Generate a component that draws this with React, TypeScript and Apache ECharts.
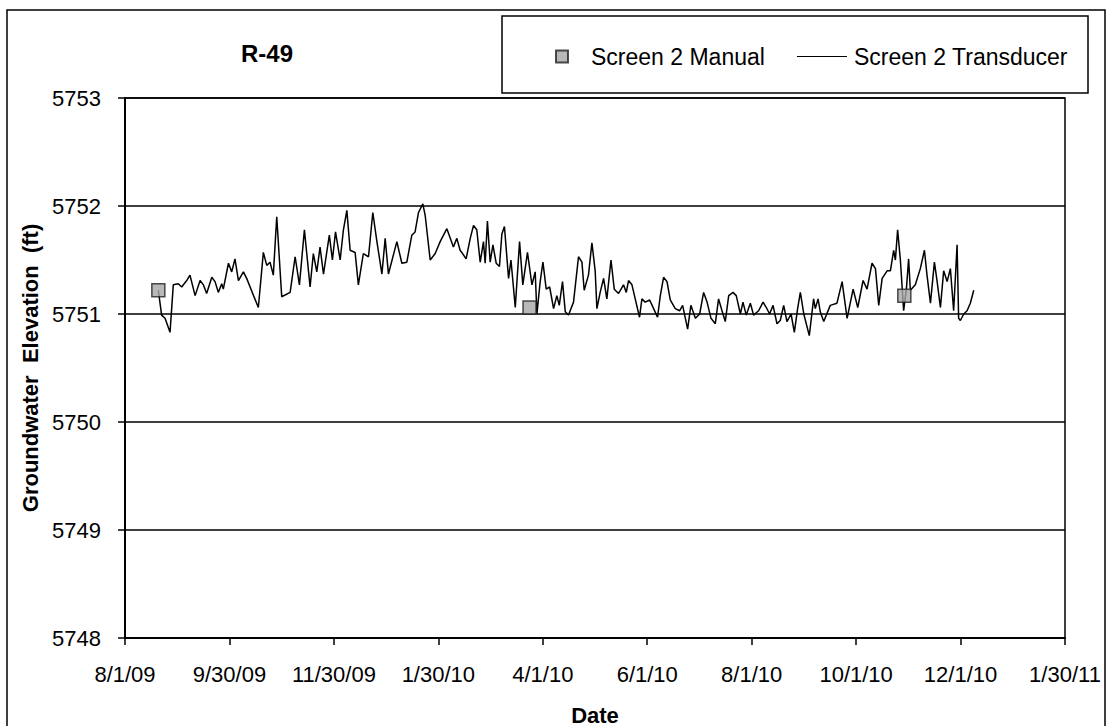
import React, { useEffect, useRef } from "react";
import * as echarts from "echarts";

// x values are days since 8/1/09
const xTickLabels = ["8/1/09", "9/30/09", "11/30/09", "1/30/10", "4/1/10", "6/1/10", "8/1/10", "10/1/10", "12/1/10", "1/30/11"];
const X_MIN_DAY = 0;
const X_MAX_DAY = 547;
const yTickMin = 5748;
const yTickMax = 5753;

const manualPoints: [number, number][] = [
  [19.4, 5751.22],
  [235.4, 5751.06],
  [453.5, 5751.17],
];

const transducer2009: [number, number][] = [
  [19.4, 5751.22], [21.3, 5750.99], [23.3, 5750.96], [26.2, 5750.83], [28.1, 5751.27],
  [31.0, 5751.28], [33.0, 5751.25], [35.9, 5751.31], [37.8, 5751.36], [40.8, 5751.17],
  [43.7, 5751.31], [45.6, 5751.27], [47.5, 5751.19], [50.5, 5751.34], [52.4, 5751.30],
  [54.3, 5751.20], [56.3, 5751.28], [57.2, 5751.23], [60.2, 5751.47], [62.1, 5751.39],
  [64.0, 5751.51], [66.0, 5751.31], [68.9, 5751.39], [70.8, 5751.33], [77.6, 5751.06],
  [80.5, 5751.57], [82.5, 5751.45], [84.4, 5751.48], [86.3, 5751.36], [88.3, 5751.90],
  [91.2, 5751.16], [96.1, 5751.20], [99.0, 5751.53], [101.5, 5751.27], [104.4, 5751.78],
  [107.7, 5751.25], [109.6, 5751.56], [111.6, 5751.39], [113.5, 5751.62], [115.5, 5751.37],
  [118.9, 5751.73], [120.7, 5751.50], [122.5, 5751.76], [125.2, 5751.50], [127.1, 5751.78],
  [129.1, 5751.96], [131.0, 5751.59], [133.9, 5751.57], [135.8, 5751.27], [138.7, 5751.56],
  [141.7, 5751.53], [144.2, 5751.94], [146.5, 5751.68], [149.5, 5751.37], [151.4, 5751.70],
  [153.3, 5751.37], [158.2, 5751.67], [161.1, 5751.47], [164.0, 5751.48], [166.9, 5751.73],
  [168.8, 5751.76], [170.8, 5751.94], [173.3, 5752.02], [174.7, 5751.91], [177.6, 5751.50],
  [180.5, 5751.56], [183.4, 5751.67], [187.3, 5751.79], [191.1, 5751.62], [193.1, 5751.70],
  [195.0, 5751.59],
];

const transducer2010a: [number, number][] = [
  [196.0, 5751.57], [198.5, 5751.51], [200.9, 5751.70], [202.8, 5751.82], [204.7, 5751.78],
  [206.7, 5751.48], [208.6, 5751.67], [209.6, 5751.47], [210.9, 5751.86], [212.5, 5751.48],
  [214.1, 5751.64], [216.0, 5751.47], [217.9, 5751.44], [219.3, 5751.74], [220.8, 5751.81],
  [223.2, 5751.33], [224.6, 5751.50], [227.1, 5751.06], [229.6, 5751.67], [231.5, 5751.27],
  [234.2, 5751.57], [236.8, 5751.27], [238.7, 5751.39], [239.7, 5751.00], [241.6, 5751.30],
  [243.2, 5751.48], [245.1, 5751.23], [247.1, 5751.25], [249.4, 5751.05], [251.3, 5751.17],
  [252.7, 5751.08], [254.6, 5751.30], [256.2, 5751.02], [258.1, 5750.99], [261.0, 5751.11],
  [263.9, 5751.53], [265.9, 5751.48], [267.2, 5751.22], [269.7, 5751.36], [271.7, 5751.66],
  [273.6, 5751.40], [274.6, 5751.05], [276.5, 5751.20], [278.5, 5751.33], [280.4, 5751.14],
  [282.8, 5751.50], [284.7, 5751.23], [287.2, 5751.19], [290.1, 5751.27], [291.7, 5751.20],
  [293.0, 5751.31], [295.0, 5751.27], [296.9, 5751.14], [299.4, 5750.97], [300.8, 5751.14],
  [302.7, 5751.11], [305.3, 5751.13], [307.6, 5751.05], [309.9, 5750.97], [311.5, 5751.17],
  [313.4, 5751.34], [315.4, 5751.30], [317.3, 5751.13], [320.2, 5751.05], [322.7, 5751.03],
  [324.5, 5751.08], [327.4, 5750.86], [329.3, 5751.08], [331.9, 5750.96], [334.4, 5751.00],
  [336.7, 5751.20], [338.7, 5751.11], [341.0, 5750.96], [343.5, 5750.91], [345.4, 5751.14],
  [347.4, 5751.03], [349.3, 5750.93], [351.3, 5751.17], [353.8, 5751.20], [355.7, 5751.17],
  [358.1, 5751.00], [359.6, 5751.11], [361.5, 5750.99], [363.9, 5751.10], [365.8, 5750.99],
  [368.7, 5751.03], [371.3, 5751.11], [373.2, 5751.06], [375.1, 5751.00], [377.1, 5751.08],
  [379.4, 5750.91], [381.3, 5750.94], [383.3, 5751.08], [385.2, 5750.93], [387.6, 5751.00],
  [389.5, 5750.83], [391.4, 5751.05], [393.0, 5751.20],
];

const transducer2010b: [number, number][] = [
  [395.0, 5751.00], [398.2, 5750.80], [400.7, 5751.14], [401.7, 5751.05], [403.3, 5751.14],
  [404.6, 5751.02], [406.6, 5750.93], [410.4, 5751.08], [414.3, 5751.10], [417.3, 5751.30],
  [420.2, 5750.96], [423.7, 5751.23], [426.4, 5751.06], [429.5, 5751.31], [431.8, 5751.23],
  [434.7, 5751.47], [436.7, 5751.42], [438.6, 5751.08], [440.6, 5751.33], [443.5, 5751.40],
  [445.4, 5751.40], [447.3, 5751.59], [448.3, 5751.50], [449.6, 5751.78], [451.2, 5751.50],
  [453.1, 5751.03], [454.7, 5751.23], [456.0, 5751.51], [457.0, 5751.22], [459.9, 5751.27],
  [462.8, 5751.42], [465.2, 5751.59], [466.7, 5751.36], [468.7, 5751.10], [471.0, 5751.48],
  [472.6, 5751.30], [474.5, 5751.06], [476.4, 5751.40], [478.4, 5751.30], [480.3, 5751.42],
  [482.2, 5751.03], [484.2, 5751.64], [485.1, 5750.96], [486.1, 5750.94], [488.1, 5751.00],
  [490.0, 5751.03], [491.9, 5751.10], [493.9, 5751.22],
];

const FONT = "'Liberation Sans', Arial, Helvetica, sans-serif";

export default function App() {
  const ref = useRef<HTMLDivElement>(null);

  useEffect(() => {
    if (!ref.current) return;
    const chart = echarts.init(ref.current, undefined, { renderer: "svg" });
    const interval = (X_MAX_DAY - X_MIN_DAY) / (xTickLabels.length - 1);
    const transducer = [...transducer2009, ...transducer2010a, ...transducer2010b];

    chart.setOption({
      animation: false,
      backgroundColor: "#ffffff",
      title: {
        text: "R-49",
        left: 236,
        top: 36,
        textStyle: { fontFamily: FONT, fontSize: 24, fontWeight: "bold", color: "#000" },
      },
      legend: [
        {
          data: [{ name: "Screen 2 Manual", icon: "rect" }],
          left: 550,
          top: 40,
          itemWidth: 12,
          itemHeight: 12,
          textStyle: { fontFamily: FONT, fontSize: 23, color: "#000", padding: [0, 0, 0, 18] },
        },
        {
          data: [{ name: "Screen 2 Transducer", icon: "path://M0,0L50,0L50,1L0,1Z" }],
          left: 792,
          top: 40,
          itemWidth: 50,
          itemHeight: 1.5,
          itemStyle: { color: "#000", borderWidth: 0 },
          lineStyle: { width: 0 },
          textStyle: { fontFamily: FONT, fontSize: 23, color: "#000", padding: [0, 0, 0, 2] },
        },
      ],
      grid: {
        left: 125,
        top: 98,
        right: 46,
        bottom: 88,
        containLabel: false,
        outerBoundsMode: "none",
        show: true,
        borderColor: "#000",
        borderWidth: 1.5,
      },
      xAxis: {
        type: "value",
        min: X_MIN_DAY,
        max: X_MAX_DAY,
        interval,
        name: "Date",
        nameLocation: "middle",
        nameGap: 66,
        nameTextStyle: { fontFamily: FONT, fontSize: 22, fontWeight: "bold", color: "#000" },
        axisLine: { show: true, lineStyle: { color: "#000", width: 2 } },
        axisTick: { show: true, inside: false, length: 7, lineStyle: { color: "#000", width: 1.5 } },
        axisLabel: {
          margin: 25,
          fontFamily: FONT,
          fontSize: 22,
          color: "#000",
          formatter: (v: number) => xTickLabels[Math.round((v - X_MIN_DAY) / interval)] ?? "",
        },
        splitLine: { show: false },
      },
      yAxis: {
        type: "value",
        min: yTickMin,
        max: yTickMax,
        interval: 1,
        name: "Groundwater  Elevation  (ft)",
        nameLocation: "middle",
        nameGap: 78,
        nameRotate: 90,
        nameTextStyle: { fontFamily: FONT, fontSize: 22, fontWeight: "bold", color: "#000" },
        axisLine: { show: true, lineStyle: { color: "#000", width: 2 } },
        axisTick: { show: true, inside: false, length: 7, lineStyle: { color: "#000", width: 1.5 } },
        axisLabel: {
          margin: 24,
          fontFamily: FONT,
          fontSize: 22,
          color: "#000",
          formatter: (v: number) => String(v),
        },
        splitLine: { show: true, lineStyle: { color: "#000", width: 1.5 } },
      },
      graphic: [
        {
          type: "rect",
          shape: { x: 7, y: 10, width: 1098, height: 760 },
          style: { fill: "none", stroke: "#000", lineWidth: 1.5 },
          silent: true,
        },
        {
          type: "rect",
          shape: { x: 502, y: 16, width: 586, height: 77 },
          style: { fill: "#fff", stroke: "#000", lineWidth: 1.5 },
          silent: true,
          z: -1,
        },
      ],
      series: [
        {
          name: "Screen 2 Transducer",
          type: "line",
          data: transducer,
          symbol: "none",
          showSymbol: false,
          lineStyle: { color: "#000", width: 1.5 },
          itemStyle: { color: "#000" },
          z: 2,
        },
        {
          name: "Screen 2 Manual",
          type: "scatter",
          data: manualPoints,
          symbol: "rect",
          symbolSize: 13,
          itemStyle: { color: "#a6a6a6", borderColor: "#222", borderWidth: 1.5 },
          z: 3,
        },
      ],
    });

    return () => chart.dispose();
  }, []);

  return (
    <div
      ref={ref}
      style={{ position: "absolute", left: 0, top: 0, width: 1111, height: 726, background: "#fff" }}
    />
  );
}
